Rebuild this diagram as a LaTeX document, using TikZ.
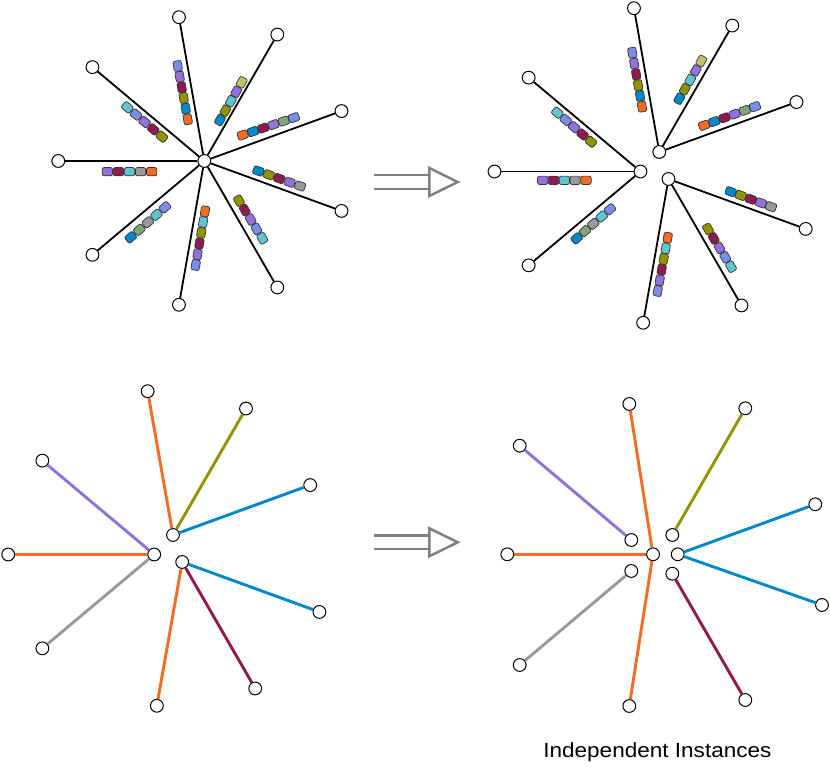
\documentclass[tikz,border=0pt]{standalone}
\usepackage{fontspec}
\usepackage{graphicx}
\setmainfont{Liberation Sans}
\usetikzlibrary{calc}
\definecolor{cPer}{HTML}{7B8DEB}
\definecolor{cPur}{HTML}{9370DB}
\definecolor{cMar}{HTML}{8E1B4F}
\definecolor{cOli}{HTML}{939300}
\definecolor{cBlu}{HTML}{0088CC}
\definecolor{cOra}{HTML}{F36C21}
\definecolor{cCya}{HTML}{5FC5D0}
\definecolor{cGra}{HTML}{999999}
\definecolor{cSag}{HTML}{80A677}
\definecolor{cKha}{HTML}{C2C26E}
\definecolor{cArr}{HTML}{808080}

\newcommand{\blockbar}[6]{%
  \coordinate (#1-in) at (#2);
  \coordinate (#1-out) at (#3);
  \foreach \bcol [count=\bi from 0] in {#6} {
    \pgfmathsetmacro{\bpos}{\bi/(#5-1)}
    \node[blk, fill=\bcol, rotate=#4] (#1-\bi) at ($(#1-in)!\bpos!(#1-out)$) {};
  }
}
\newcommand{\dblarrow}[1]{%
  \begin{scope}[shift={(0,#1)}]
    \draw[arrline] (374.3,6.9) -- (429.3,6.9);
    \draw[arrline] (374.3,-6.9) -- (429.3,-6.9);
    \draw[arrline, fill=white, line join=miter] (429.3,14) -- (457.7,0) -- (429.3,-14) -- cycle;
  \end{scope}
}

\begin{document}
\begin{tikzpicture}[x=1pt,y=1pt,
  dot/.style={circle, draw=black, fill=white, line width=1pt, minimum size=12.8pt, inner sep=0pt},
  blk/.style={rectangle, rounded corners=2pt, draw=black!80, line width=0.7pt, minimum width=10.3pt, minimum height=8.3pt, inner sep=0pt},
  bline/.style={black, line width=1.8pt},
  cline/.style={line width=2.9pt},
  arrline/.style={draw=cArr, line width=2.5pt},
]
\useasboundingbox (0,0) rectangle (830,769);

% ---------- top-left star ----------
\node[dot] (A-c) at (204.3,608) {};
\foreach \a [count=\k] in {100,60,20,-20,-60,-100,-140,180,140} {
  \node[dot] (A-\k) at ($(A-c)+(\a:146)$) {};
  \draw[bline] (A-c) -- (A-\k);
}
\blockbar{A-b1}{187.7,649.7}{177.7,703}{100}{6}{cOra,cBlu,cOli,cMar,cPur,cPer}
\blockbar{A-b2}{220,649}{241.7,686.7}{60}{5}{cBlu,cOli,cCya,cPur,cKha}
\blockbar{A-b3}{242.7,634}{294,651.3}{20}{6}{cOra,cBlu,cMar,cPur,cSag,cPer}
\blockbar{A-b4}{258.3,598}{300,583}{-20}{5}{cBlu,cOli,cMar,cPur,cGra}
\blockbar{A-b5}{239,568.3}{262.3,530.7}{-60}{5}{cOli,cMar,cPur,cPer,cCya}
\blockbar{A-b6}{205,557.7}{195.7,504}{-100}{6}{cOra,cCya,cOli,cMar,cPur,cPer}
\blockbar{A-b7}{165,561.7}{130.7,531.7}{-140}{5}{cPer,cCya,cGra,cSag,cBlu}
\blockbar{A-b8}{151.7,597.3}{107.3,597.3}{180}{5}{cOra,cGra,cCya,cMar,cPur}
\blockbar{A-b9}{162,632.3}{127.3,661.7}{140}{5}{cOli,cMar,cPur,cPer,cCya}

% ---------- top-right star ----------
\node[dot] (B-ct) at (659.3,617) {};
\node[dot] (B-cb) at (668.5,590) {};
\node[dot] (B-cl) at (640.5,597.5) {};
\foreach \a/\h [count=\k] in {100/ct,60/ct,20/ct,-20/cb,-60/cb,-100/cb,-140/cl,180/cl,140/cl} {
  \node[dot] (B-\k) at ($(B-\h)+(\a:146)$) {};
  \draw[bline] (B-\h) -- (B-\k);
}
\blockbar{B-b1}{642,662.3}{632.3,716.3}{100}{6}{cOra,cBlu,cOli,cMar,cPur,cPer}
\blockbar{B-b2}{679.3,670.3}{701.3,708}{60}{5}{cBlu,cOli,cCya,cPur,cKha}
\blockbar{B-b3}{704,643.7}{755,662.3}{20}{6}{cOra,cBlu,cMar,cPur,cSag,cPer}
\blockbar{B-b4}{730.7,577.3}{771,562.3}{-20}{5}{cBlu,cOli,cMar,cPur,cGra}
\blockbar{B-b5}{708,540}{731,502.3}{-60}{5}{cOli,cMar,cPur,cPer,cCya}
\blockbar{B-b6}{667.7,531.3}{657.7,478}{-100}{6}{cOra,cCya,cOli,cMar,cPur,cPer}
\blockbar{B-b7}{610,559.7}{576.7,530.7}{-140}{5}{cPer,cCya,cGra,cSag,cBlu}
\blockbar{B-b8}{586,588.7}{542.7,588.7}{180}{5}{cOra,cGra,cCya,cMar,cPur}
\blockbar{B-b9}{591,627.3}{557.3,656.3}{140}{5}{cOli,cMar,cPur,cPer,cCya}

% ---------- bottom-left ----------
\node[dot] (C-ct) at (173,234) {};
\node[dot] (C-cl) at (154.2,214.5) {};
\node[dot] (C-cb) at (182.2,207) {};
\foreach \a/\h/\col [count=\k] in {100/ct/cOra,60/ct/cOli,20/ct/cBlu,-20/cb/cBlu,-60/cb/cMar,-100/cb/cOra,-140/cl/cGra,180/cl/cOra,140/cl/cPur} {
  \node[dot] (C-\k) at ($(C-\h)+(\a:146)$) {};
  \draw[cline, draw=\col] (C-\h) -- (C-\k);
}

% ---------- bottom-right ----------
\node[dot] (D-or) at (653,214.7) {};
\node[dot] (D-pu) at (631.3,229) {};
\node[dot] (D-gr) at (631.3,198) {};
\node[dot] (D-ol) at (672.3,234) {};
\node[dot] (D-bl) at (677.7,214.7) {};
\node[dot] (D-ma) at (672.3,195.3) {};
\node[dot] (D-1) at (629.3,365) {};
\node[dot] (D-2) at (745.3,360.7) {};
\node[dot] (D-3) at (815.3,264.7) {};
\node[dot] (D-4) at (822,164) {};
\node[dot] (D-5) at (745.3,69) {};
\node[dot] (D-6) at (629.3,63) {};
\node[dot] (D-7) at (519.7,104) {};
\node[dot] (D-8) at (507.3,214.7) {};
\node[dot] (D-9) at (519.7,323.3) {};
\draw[cline, draw=cOra] (D-or) -- (D-1);
\draw[cline, draw=cOra] (D-or) -- (D-6);
\draw[cline, draw=cOra] (D-or) -- (D-8);
\draw[cline, draw=cOli] (D-ol) -- (D-2);
\draw[cline, draw=cBlu] (D-bl) -- (D-3);
\draw[cline, draw=cBlu] (D-bl) -- (D-4);
\draw[cline, draw=cMar] (D-ma) -- (D-5);
\draw[cline, draw=cGra] (D-gr) -- (D-7);
\draw[cline, draw=cPur] (D-pu) -- (D-9);

% ---------- arrows ----------
\dblarrow{587}
\dblarrow{226.7}

% ---------- label ----------
\node[anchor=base, inner sep=0pt, font=\fontsize{20.5}{24}\selectfont] (lbl) at (657.4,11.7) {\scalebox{1.1}[1]{Independent Instances}};
\end{tikzpicture}
\end{document}
